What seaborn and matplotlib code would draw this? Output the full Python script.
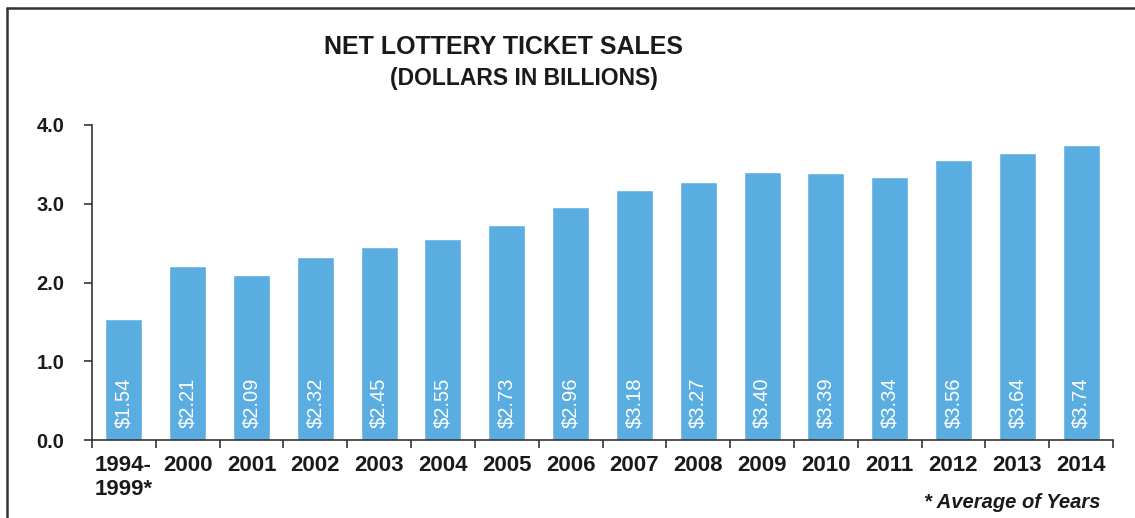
import matplotlib
matplotlib.use("Agg")
import matplotlib.pyplot as plt
from matplotlib.lines import Line2D
import seaborn as sns
import pandas as pd
import numpy as np

# Net lottery ticket sales, billions of dollars
years = ["1994-\n1999*", "2000", "2001", "2002", "2003", "2004", "2005", "2006",
         "2007", "2008", "2009", "2010", "2011", "2012", "2013", "2014"]
sales = [1.54, 2.21, 2.09, 2.32, 2.45, 2.55, 2.73, 2.96,
         3.18, 3.27, 3.40, 3.39, 3.34, 3.56, 3.64, 3.74]
y_ticks = [0.0, 1.0, 2.0, 3.0, 4.0]

sns.set_theme(style="ticks")
plt.rcParams["font.family"] = ["Liberation Sans", "DejaVu Sans"]

df = pd.DataFrame({"year": years, "sales": sales})

fig = plt.figure(figsize=(11.35, 5.18), dpi=100)
ax = fig.add_axes([92 / 1135, 1 - 440 / 518, (1113 - 92) / 1135, (440 - 125) / 518])

bar_color = "#5AADE1"
sns.barplot(data=df, x="year", y="sales", color=bar_color, saturation=1,
            width=0.58, ax=ax)

# value labels written vertically inside each bar
for i, v in enumerate(sales):
    ax.text(i, 0.15, f"${v:.2f}", rotation=90, ha="center", va="bottom",
            color="white", fontsize=14.5)

ax.set_xlim(-0.5, len(years) - 0.5)
ax.set_ylim(0, 4.0)
ax.set_yticks(y_ticks)
ax.set_yticklabels([f"{t:.1f}" for t in y_ticks], fontsize=14.5, fontweight="bold",
                   color="#1a1a1a")
ax.set_xlabel("")
ax.set_ylabel("")

# category labels without marks; boundary marks between categories
ax.tick_params(axis="x", which="major", length=0, pad=11, labelsize=16,
               labelcolor="#1a1a1a")
for lab in ax.get_xticklabels():
    lab.set_fontweight("bold")
    lab.set_multialignment("left")
ax.set_xticks(np.arange(-0.5, len(years), 1.0), minor=True)
ax.tick_params(axis="x", which="minor", length=6, width=1.2, color="#333333",
               direction="out")
ax.tick_params(axis="y", length=6, width=1.2, color="#333333", pad=14)

for side in ("top", "right"):
    ax.spines[side].set_visible(False)
for side in ("left", "bottom"):
    ax.spines[side].set_color("#333333")
    ax.spines[side].set_linewidth(1.2)

fig.text(503 / 1135, 1 - 47 / 518, "NET LOTTERY TICKET SALES", ha="center",
         va="center", fontsize=18, fontweight="bold", color="#1a1a1a")
fig.text(524 / 1135, 1 - 79 / 518, "(DOLLARS IN BILLIONS)", ha="center",
         va="center", fontsize=16.5, fontweight="bold", color="#1a1a1a")
fig.text(1100 / 1135, 1 - 502 / 518, "* Average of Years", ha="right",
         va="center", fontsize=14.5, fontweight="bold", style="italic",
         color="#1a1a1a")

# frame around the figure (left and top edges)
fig.add_artist(Line2D([7 / 1135, 7 / 1135], [0, 1 - 8 / 518],
                      transform=fig.transFigure, color="#333333", lw=1.8))
fig.add_artist(Line2D([7 / 1135, 1], [1 - 8 / 518, 1 - 8 / 518],
                      transform=fig.transFigure, color="#333333", lw=1.8))

fig.savefig("out.png", dpi=100)
